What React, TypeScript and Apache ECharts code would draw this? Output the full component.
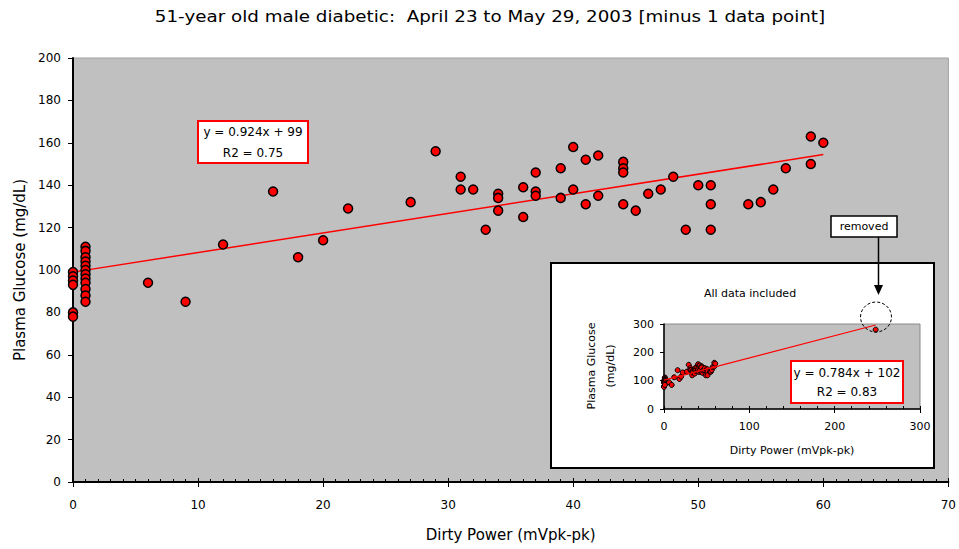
import { useEffect, useRef } from "react";
import * as echarts from "echarts";

// ---- data ----
const dirtyPower = [
  0, 0, 0, 0, 0, 0,
  1, 1, 1, 1, 1, 1, 1, 1, 1, 1, 1, 1,
  6, 9, 12, 16, 18, 20, 22, 27, 29,
  31, 31, 32, 33, 34, 34, 34,
  36, 36, 37, 37, 37,
  39, 39, 40, 40, 41, 41, 42, 42,
  44, 44, 44, 44, 45, 46, 47, 48, 49,
  50, 51, 51, 51, 54, 55, 56, 57,
  59, 59, 60,
];
const glucose = [
  99, 97, 95, 93, 80, 78,
  111, 109, 106, 104, 102, 100, 98, 96, 94, 91, 88, 85,
  94, 85, 112, 137, 106, 114, 129, 132, 156,
  144, 138, 138, 119, 136, 134, 128,
  139, 125, 146, 137, 135,
  148, 134, 158, 138, 152, 131, 154, 135,
  151, 148, 146, 131, 128, 136, 138, 144, 119,
  140, 140, 131, 119, 131, 132, 138, 148,
  163, 150, 160,
];
const removedPoint = [248, 280];

const mainSlope = 0.924;
const mainIntercept = 99;
const insetSlope = 0.784;
const insetIntercept = 102;

const mainXTicks = [0, 70, 10];
const mainYTicks = [0, 200, 20];
const insetTicks = [0, 300, 100];

const titleText = "51-year old male diabetic:  April 23 to May 29, 2003 [minus 1 data point]";
const xName = "Dirty Power (mVpk-pk)";
const yName = "Plasma Glucose (mg/dL)";
const mainEq = ["y = 0.924x + 99", "R2 = 0.75"];
const insetEq = ["y = 0.784x + 102", "R2 = 0.83"];

const FONT = "DejaVu Sans";

export default function App() {
  const ref = useRef<HTMLDivElement>(null);
  useEffect(() => {
    document.body.style.margin = "0";
    const chart = echarts.init(ref.current!, null, { renderer: "svg" });

    const mainPts = dirtyPower.map((x, i) => [x, glucose[i]]);
    const allPts = [...mainPts, removedPoint];
    const xMin = Math.min(...dirtyPower);
    const xMax = Math.max(...dirtyPower);
    const mainTrend = [xMin, xMax].map((x) => [x, mainSlope * x + mainIntercept]);
    const allX = allPts.map((p) => p[0]);
    const aMin = Math.min(...allX);
    const aMax = Math.max(...allX);
    const insetTrend = [aMin, aMax].map((x) => [x, insetSlope * x + insetIntercept]);

    const black = "#000";
    const red = "#FF0000";

    const option: any = {
      animation: false,
      backgroundColor: "#fff",
      textStyle: { fontFamily: FONT },
      grid: [
        { left: 73, top: 58, width: 879, height: 424, show: true, backgroundColor: "#C0C0C0", borderColor: "#A0A0A0", borderWidth: 1, z: 0 },
        { left: 664, top: 324, width: 256, height: 85, show: true, backgroundColor: "#C0C0C0", borderColor: "#8A8A8A", borderWidth: 1, z: 60 },
      ],
      xAxis: [
        {
          gridIndex: 0, type: "value", position: "bottom",
          min: mainXTicks[0], max: mainXTicks[1], interval: mainXTicks[2],
          axisLine: { lineStyle: { color: black, width: 2 } },
          axisTick: { show: true, inside: true, length: 4, lineStyle: { color: black } },
          minorTick: { show: true, splitNumber: 10, length: 3, lineStyle: { color: black } },
          axisLabel: { margin: 17, fontSize: 12, color: black, fontFamily: FONT },
          splitLine: { show: false },
          name: xName, nameLocation: "middle", nameGap: 45,
          nameTextStyle: { fontSize: 15, color: black, fontFamily: FONT },
        },
        {
          gridIndex: 0, type: "value", position: "bottom",
          min: mainXTicks[0], max: mainXTicks[1], interval: mainXTicks[2],
          axisLine: { show: false },
          axisTick: { show: true, inside: false, length: 5, lineStyle: { color: black } },
          axisLabel: { show: false },
          splitLine: { show: false },
        },
        {
          gridIndex: 1, type: "value", position: "bottom", z: 61,
          min: insetTicks[0], max: insetTicks[1], interval: insetTicks[2],
          axisLine: { lineStyle: { color: black, width: 1.5 } },
          axisTick: { show: true, inside: true, length: 3, lineStyle: { color: black } },
          minorTick: { show: true, splitNumber: 5, length: 3, lineStyle: { color: black } },
          axisLabel: { margin: 12, fontSize: 11, color: black, fontFamily: FONT },
          splitLine: { show: false },
          name: xName, nameLocation: "middle", nameGap: 36,
          nameTextStyle: { fontSize: 11, color: black, fontFamily: FONT },
        },
        {
          gridIndex: 1, type: "value", position: "bottom", z: 61,
          min: insetTicks[0], max: insetTicks[1], interval: insetTicks[2],
          axisLine: { show: false },
          axisTick: { show: true, inside: false, length: 4, lineStyle: { color: black } },
          axisLabel: { show: false },
          splitLine: { show: false },
        },
      ],
      yAxis: [
        {
          gridIndex: 0, type: "value",
          min: mainYTicks[0], max: mainYTicks[1], interval: mainYTicks[2],
          axisLine: { show: true, lineStyle: { color: black, width: 2 } },
          axisTick: { show: true, inside: false, length: 5, lineStyle: { color: black } },
          axisLabel: { margin: 12, fontSize: 12, color: black, fontFamily: FONT },
          splitLine: { show: false },
          name: yName, nameLocation: "middle", nameGap: 46,
          nameTextStyle: { fontSize: 15, color: black, fontFamily: FONT },
        },
        {
          gridIndex: 1, type: "value", z: 61,
          min: insetTicks[0], max: insetTicks[1], interval: insetTicks[2],
          axisLine: { show: true, lineStyle: { color: black, width: 1.5 } },
          axisTick: { show: true, inside: false, length: 4, lineStyle: { color: black } },
          axisLabel: { margin: 10, fontSize: 11, color: black, fontFamily: FONT },
          splitLine: { show: false },
        },
      ],
      series: [
        {
          type: "line", xAxisIndex: 0, yAxisIndex: 0, data: mainTrend,
          showSymbol: false, symbol: "none", lineStyle: { color: red, width: 1.5 }, z: 2,
        },
        {
          type: "scatter", xAxisIndex: 0, yAxisIndex: 0, data: mainPts,
          symbolSize: 9, itemStyle: { color: red, borderColor: black, borderWidth: 1.5, opacity: 1 }, z: 3,
        },
        {
          type: "line", xAxisIndex: 2, yAxisIndex: 1, data: insetTrend,
          showSymbol: false, symbol: "none", lineStyle: { color: red, width: 1.2 }, z: 63,
        },
        {
          type: "scatter", xAxisIndex: 2, yAxisIndex: 1, data: allPts,
          symbolSize: 5, itemStyle: { color: red, borderColor: black, borderWidth: 1, opacity: 1 }, z: 62,
        },
      ],
      graphic: [
        // title
        { type: "text", z: 80, x: 490, y: 17, scaleX: 1.22, style: { text: titleText, fontSize: 15, fontFamily: FONT, fill: black, align: "center", verticalAlign: "middle" } },
        // main equation box
        { type: "rect", z: 50, shape: { x: 198, y: 121, width: 110, height: 42 }, style: { fill: "#fff", stroke: red, lineWidth: 2 } },
        { type: "text", z: 51, x: 253, y: 132, style: { text: mainEq[0], fontSize: 12, fontFamily: FONT, fill: black, align: "center", verticalAlign: "middle" } },
        { type: "text", z: 51, x: 253, y: 153, style: { text: mainEq[1], fontSize: 12, fontFamily: FONT, fill: black, align: "center", verticalAlign: "middle" } },
        // inset box
        { type: "rect", z: 50, shape: { x: 551, y: 263, width: 383, height: 205 }, style: { fill: "#fff", stroke: black, lineWidth: 2 } },
        { type: "text", z: 70, x: 750, y: 293, style: { text: "All data included", fontSize: 11, fontFamily: FONT, fill: black, align: "center", verticalAlign: "middle" } },
        { type: "text", z: 70, x: 601, y: 366, rotation: Math.PI / 2, style: { text: "Plasma Glucose\n(mg/dL)", fontSize: 11, lineHeight: 19, fontFamily: FONT, fill: black, align: "center", verticalAlign: "middle" } },
        // inset equation box
        { type: "rect", z: 70, shape: { x: 791, y: 361, width: 112, height: 42 }, style: { fill: "#fff", stroke: red, lineWidth: 2 } },
        { type: "text", z: 71, x: 847, y: 373, style: { text: insetEq[0], fontSize: 12, fontFamily: FONT, fill: black, align: "center", verticalAlign: "middle" } },
        { type: "text", z: 71, x: 847, y: 392, style: { text: insetEq[1], fontSize: 12, fontFamily: FONT, fill: black, align: "center", verticalAlign: "middle" } },
        // removed label and arrow
        { type: "rect", z: 70, shape: { x: 831, y: 216, width: 66, height: 21 }, style: { fill: "#fff", stroke: black, lineWidth: 1.5 } },
        { type: "text", z: 71, x: 864, y: 226.5, style: { text: "removed", fontSize: 11, fontFamily: FONT, fill: black, align: "center", verticalAlign: "middle" } },
        { type: "line", z: 70, shape: { x1: 878.5, y1: 237, x2: 878.5, y2: 287 }, style: { stroke: black, lineWidth: 1.5 } },
        { type: "polygon", z: 70, shape: { points: [[874, 285], [883, 285], [878.5, 295]] }, style: { fill: black } },
        { type: "ellipse", z: 72, shape: { cx: 876, cy: 317, rx: 15.5, ry: 15 }, style: { fill: "none", stroke: black, lineWidth: 1, lineDash: [3, 2] } },
      ],
    };
    chart.setOption(option);
    return () => chart.dispose();
  }, []);
  return <div ref={ref} style={{ width: 959, height: 549, overflow: "hidden" }} />;
}
